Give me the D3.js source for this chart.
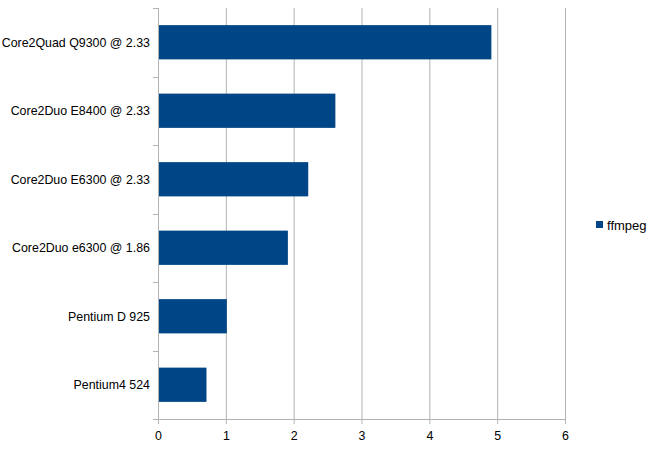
<!DOCTYPE html>
<html>
<head>
<meta charset="utf-8">
<script src="https://cdn.jsdelivr.net/npm/d3@7"></script>
<style>
  body { margin: 0; background: #fff; }
  svg text { font-family: "Liberation Sans", Arial, sans-serif; font-size: 12.4px; fill: #000; }
</style>
</head>
<body>
<div class="chart"></div>
<script>
'use strict'

const categories = [
    'Core2Quad Q9300 @ 2.33'
  , 'Core2Duo E8400 @ 2.33'
  , 'Core2Duo E6300 @ 2.33'
  , 'Core2Duo e6300 @ 1.86'
  , 'Pentium D 925'
  , 'Pentium4 524'
]
const values = [4.9, 2.6, 2.2, 1.9, 1.0, 0.7]
const xTicks = [0, 1, 2, 3, 4, 5, 6]
const seriesName = 'ffmpeg'

const width = 652
const height = 449
const margin = { top: 8, right: 87, bottom: 30, left: 158 }
const innerW = width - margin.left - margin.right
const innerH = height - margin.top - margin.bottom
const barColor = '#004586'
const gridColor = '#b3b3b3'

const svg = d3.select('.chart').append('svg')
    .attr('width', width)
    .attr('height', height)

const g = svg.append('g')
    .attr('transform', `translate(${margin.left},${margin.top})`)

const x = d3.scaleLinear().domain([0, 6]).range([0, innerW])
const y = d3.scaleBand().domain(categories).range([0, innerH]).paddingInner(0.5).paddingOuter(0.25)

// vertical grid lines
g.selectAll('.grid')
    .data(xTicks)
  .enter().append('line')
    .attr('class', 'grid')
    .attr('x1', d => x(d) + 0.5)
    .attr('x2', d => x(d) + 0.5)
    .attr('y1', 0)
    .attr('y2', innerH + 5)
    .style('stroke', gridColor)
    .style('stroke-width', 1)

// bars
g.selectAll('.bar')
    .data(values)
  .enter().append('rect')
    .attr('class', 'bar')
    .attr('x', x(0) + 1)
    .attr('y', (d, i) => y(categories[i]))
    .attr('width', d => x(d) - x(0))
    .attr('height', y.bandwidth())
    .style('fill', barColor)

// category boundary ticks on left axis
const bounds = d3.range(categories.length + 1).map(i => i * innerH / categories.length)
g.selectAll('.ytick')
    .data(bounds)
  .enter().append('line')
    .attr('x1', -5)
    .attr('x2', 0)
    .attr('y1', d => Math.round(d) + 0.5)
    .attr('y2', d => Math.round(d) + 0.5)
    .style('stroke', gridColor)

// bottom axis line
g.append('line')
    .attr('x1', -5)
    .attr('x2', innerW + 0.5)
    .attr('y1', innerH + 0.5)
    .attr('y2', innerH + 0.5)
    .style('stroke', gridColor)

// category labels
g.selectAll('.ylabel')
    .data(categories)
  .enter().append('text')
    .attr('x', -8)
    .attr('y', d => y(d) + y.bandwidth() / 2)
    .attr('dy', '0.35em')
    .style('text-anchor', 'end')
    .text(d => d)

// x tick labels
g.selectAll('.xlabel')
    .data(xTicks)
  .enter().append('text')
    .attr('x', d => x(d) + 0.5)
    .attr('y', innerH + 21)
    .style('text-anchor', 'middle')
    .text(d => d)

// legend
const legend = svg.append('g')
    .attr('transform', 'translate(596,221)')
legend.append('rect')
    .attr('width', 7)
    .attr('height', 7)
    .style('fill', barColor)
legend.append('text')
    .attr('x', 11)
    .attr('y', 8.5)
    .style('font-size', '13px')
    .text(seriesName)
</script>
</body>
</html>
